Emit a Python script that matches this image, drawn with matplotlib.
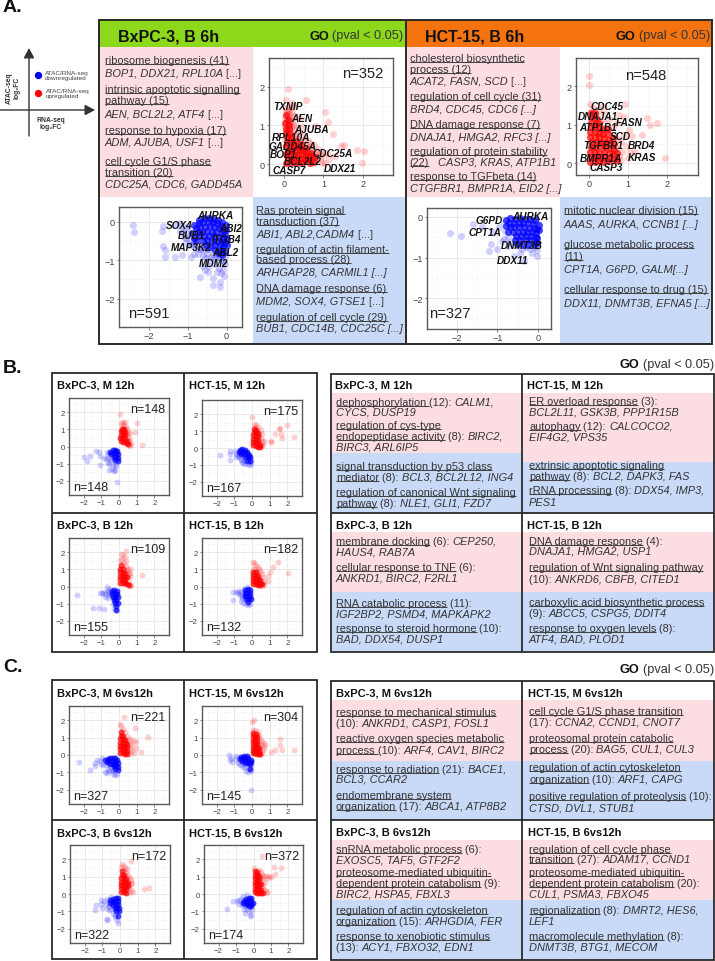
import re
import numpy as np
import matplotlib
matplotlib.use("Agg")
import matplotlib.pyplot as plt
from matplotlib.patches import Rectangle

plt.rcParams['font.family'] = ['Liberation Sans', 'DejaVu Sans']

# ---------------------------- data: panel A scatter points
A_BX_UP_CORE = [(.05,.04),(.16,.06),(.26,.03),(.36,.06),(.46,.04),(.56,.07),(.66,.03),(.1,.15),(.21,.14),(.31,.17),(.41,.14),(.51,.16),(.61,.14),(.71,.12),
                (.05,.26),(.15,.24),(.26,.27),(.36,.24),(.46,.26),(.56,.23),(.66,.21),(.1,.35),(.2,.36),(.31,.34),(.41,.36),(.5,.33),(.6,.3),
                (.04,.46),(.15,.45),(.25,.46),(.35,.43),(.45,.4),(.08,.56),(.17,.57),(.28,.5),(.07,.7),(.14,.78),(.06,.9),(.12,1.02),
                (.75,.05),(.78,.18),(.68,.3),(.55,.42),(.42,.52),(.3,.6),(.18,.68),(.05,.8),(.12,.9),(.03,1.05),(.1,1.15),(.06,1.28)]
A_BX_UP_SPARSE = [(.11,1.93),(.56,1.65),(.05,1.65),(.2,1.57),(1.04,1.35),(1.11,1.08),(.79,.99),(1.24,.77),(1.51,.5),(1.44,.47),(1.85,.37),(2.03,.33),(1.98,.04),(1.03,.04),(1.3,.2),
                  (.02,.62),(.08,.7),(.15,.65),(.22,.72),(.3,.66),(.4,.6),(.05,.8),(.12,.85),(.2,.82),(.02,.95),(.1,1.0),(.18,.95),(.28,.88),(.38,.8),(.5,.75),
                  (.04,1.1),(.12,1.15),(.2,1.1),(.3,1.0),(.45,.95),(.05,1.3),(.15,1.3),(.25,1.25),(.4,1.2),(.02,1.45),(.12,1.45),(.25,1.5),(.6,.6),(.75,.5),(.85,.4),(.7,.35),(.95,.3),(.8,.2),(.9,.1),(1.0,.2),
                  (.03,1.2),(.1,1.25),(.08,1.38),(.16,1.2),(.06,.98),(.14,1.08),(.24,1.02),(.55,.5),(.65,.45),(.75,.25),
                  (.8,.3),(.9,.25),(.65,.55),(.5,.62),(.35,.72),(1.1,.3),(1.15,.12),(.95,.02),(.12,1.4),(.2,1.35)]
A_BX_DN_CORE = [(-.85,-.08),(-.72,-.04),(-.6,-.02),(-.48,.0),(-.36,-.02),(-.24,-.05),(-.14,-.12),(-.8,-.18),(-.68,-.15),(-.56,-.13),(-.44,-.12),(-.32,-.14),(-.2,-.17),(-.08,-.22),
                (-.9,-.3),(-.75,-.28),(-.63,-.26),(-.5,-.25),(-.38,-.26),(-.26,-.28),(-.13,-.3),(-.05,-.34),(-.7,-.38),(-.58,-.38),(-.46,-.37),(-.33,-.38),(-.2,-.4),(-.08,-.42),
                (-.62,-.5),(-.5,-.48),(-.38,-.5),(-.25,-.5),(-.12,-.52),(-.04,-.55),(-.3,-.6),(-.18,-.62),(-.08,-.65),(-.14,-.74),(-.05,-.78),
                (-.85,-.42),(-.78,-.5),(-.52,-.62),(-.42,-.66),(-.3,-.74),(-.22,-.82),(-.12,-.86),(-.02,-.1),(-.02,-.22),(.0,-.45),(.0,-.62),(-.58,.08),(-.46,.1),(-.34,.06),(-.22,.05),(-.12,-.02),(-.7,.05)]
A_BX_DN_SPARSE = [(-2.41,-.09),(-2.38,-.26),(-1.64,-.11),(-1.66,-.24),(-1.64,-.63),(-1.58,-.74),(-1.58,-.91),(-1.32,-.91),(-1.16,-.87),(-.92,-.91),(-.69,-1.45),(-.47,-1.32),(-.36,-1.48),(-.34,-1.65),(-.17,-1.58),(-.16,-1.71),(-.07,-1.41),
                  (-1.3,-.1),(-1.2,-.25),(-1.1,-.4),(-1.0,-.15),(-1.05,-.55),(-.95,-.6),(-.85,-.5),(-.8,-.7),(-.75,-.85),(-.65,-.72),(-.6,-.9),(-.55,-.65),(-.5,-.85),(-.45,-.72),(-.42,-1.0),(-.35,-.85),(-.3,-1.1),(-.25,-.92),(-.2,-1.2),(-.12,-1.0),(-.08,-1.25),(-.6,-1.15),(-.55,-1.25),(-.03,-.9),(-.15,-.85),(-.4,-.62),
                  (-1.2,-.05),(-1.1,-.15),(-1.12,-.28),(-1.0,-.3),(-1.05,-.42),(-.95,-.5),(-.9,-.62),(-.8,-.6),(-.72,-.72),(-.6,-.75),(-.5,-.72),(-.55,-.95),(-.4,-.92),(-.3,-.95),(-.2,-.95),(-.1,-1.05),(-.03,-1.1),(-.25,-1.3),(-.45,-1.15),(-.15,-1.35),(-.85,-.85)]
A_HC_UP_CORE = [(.03,.05),(.14,.03),(.25,.06),(.36,.04),(.47,.06),(.04,.17),(.15,.16),(.27,.18),(.38,.16),(.5,.14),(.03,.3),(.14,.29),(.26,.31),(.38,.3),(.5,.28),(.6,.24),
                (.04,.43),(.15,.42),(.27,.44),(.39,.42),(.52,.4),(.63,.36),(.04,.56),(.16,.55),(.28,.56),(.4,.54),(.54,.52),(.03,.69),(.14,.68),(.26,.69),(.38,.66),(.5,.62),
                (.03,.82),(.14,.81),(.25,.8),(.36,.76),(.04,.95),(.15,.94),(.26,.92),(.05,1.08),(.16,1.05),(.06,1.2),
                (.62,.12),(.7,.1),(.72,.28),(.64,.5),(.6,.65),(.48,.76),(.36,.9),(.26,1.05),(.16,1.18),(.04,1.3),(.14,1.3),(.48,.9)]
A_HC_UP_SPARSE = [(0,2.28),(0,2.03),(.92,1.54),(1.48,1.19),(1.55,.99),(1.74,1.06),(1.34,.73),(1.95,.15),(1.02,.86),(1.1,.7),(1.17,.3),(.75,1.25),(.88,1.2),(.7,1.05),(.6,.95),
                  (.02,1.55),(.1,1.45),(.25,1.4),(.38,1.3),(.5,1.15),(.4,1.05),(.62,.75),(.72,.65),(.82,.55),(.9,.75),(.7,.4),(.85,.3),(.75,.2),(.95,.45),(1.0,.15),(.65,.1),(.58,.05),(.8,.08),(1.05,.3),(.35,1.5),(.2,1.25),(.12,1.3),(.03,1.32),(.3,1.12)]
A_HC_DN_CORE = [(-.68,-.03),(-.56,-.04),(-.44,-.02),(-.32,-.05),(-.2,-.06),(-.72,-.15),(-.6,-.14),(-.48,-.14),(-.36,-.15),(-.24,-.16),(-.12,-.18),(-.7,-.26),(-.58,-.26),(-.46,-.26),(-.34,-.26),(-.22,-.28),(-.1,-.28),(-.03,-.3),
                (-.62,-.38),(-.5,-.37),(-.38,-.38),(-.26,-.38),(-.14,-.38),(-.04,-.4),(-.55,-.48),(-.42,-.48),(-.3,-.48),(-.18,-.48),(-.06,-.5),(-.44,-.58),(-.3,-.58),(-.16,-.58),(-.06,-.62),
                (-.08,-.08),(.02,-.2),(.03,-.32),(-.56,-.58),(-.02,-.52),(-.38,-.68),(-.24,-.68),(-.1,-.7),(-.02,-.65),(-.78,-.08),(-.8,-.22),(-.75,-.38),(-.52,-.66)]
A_HC_DN_SPARSE = [(-2.16,-.4),(-1.9,-.48),(-1.6,-.17),(-1.38,-.24),(-1.22,-.84),(-1.15,-.67),(-1.01,-.79),(-.58,-.96),(-.35,-1.08),(-.02,-.96),(-.02,-.82),(-1.1,-.38),(-.95,-.25),(-.85,-.15),(-.82,-.35),(-.75,-.5),(-.68,-.62),
                  (-.6,-.7),(-.85,-.55),(-.5,-.72),(-.4,-.78),(-.3,-.75),(-.2,-.78),(-.08,-.75),(-.45,-.9),(-.15,-.88),(-.75,-.72),(-.9,-.6),(-.05,-.05),(-.04,-.15)]

# ---------------------------- data: panel B scatter points
B1_UP_CORE = [(.1,.3),(.25,.25),(.4,.2),(.5,.12),(.08,.5),(.2,.5),(.33,.45),(.45,.35),(.1,.7),(.22,.7),(.35,.65),(.1,.9),(.22,.9),(.35,.85),(.15,1.05),(.28,1.05)]
B1_UP_SPARSE = [(.06,1.87),(.1,1.4),(.2,1.45),(.33,1.45),(.15,1.25),(.3,1.25),(.4,1.15),(.5,.85),(.6,.8),(1.04,1.4),(.9,.85),(1.28,.09),(.7,.15),(.6,.3),(.5,.55),(.65,.05),(.55,.1),(.45,.75),(.45,1.0),(.55,.45)]
B1_DN_CORE = [(-.5,-.3),(-.35,-.2),(-.2,-.2),(-.1,-.25),(-.45,-.45),(-.3,-.4),(-.15,-.4),(-.05,-.45),(-.3,-.6),(-.15,-.6),(-.05,-.65),(-.2,-.8),(-.08,-.85)]
B1_DN_SPARSE = [(-2.0,-.62),(-1.8,-.85),(-1.65,-.55),(-1.3,-.25),(-1.15,-.35),(-1.05,-.55),(-1.1,-1.1),(-.85,-.7),(-.75,-.72),(-.65,-.65),(-.7,-.3),(-.62,-.45),(-.6,-.95),(-.55,-1.0),(-.55,-1.35),(-.4,-1.3),(-.3,-1.45),(-.2,-1.35),(-.15,-1.15),(-.35,-1.1),(-.25,-1.0),(-.13,-2.1),(-.5,-.8),(-.4,-.75)]
B2_UP_CORE = [(.08,.15),(.2,.1),(.33,.08),(.45,.05),(.08,.35),(.2,.33),(.33,.28),(.45,.2),(.08,.55),(.2,.52),(.33,.48),(.08,.75),(.2,.72),(.32,.68),(.1,.95),(.22,.92),(.33,.88),(.12,1.12),(.25,1.05)]
B2_UP_SPARSE = [(0,1.8),(.7,.4),(1.3,.8),(1.57,1.15),(1.52,1.12),(2,1.37),(2.37,.66),(1.63,.8),(1.72,.57),(1.1,.38),(1.05,.42),(.1,1.4),(.25,1.35),(.35,1.25),(.5,1.05),(.55,.8),(.5,.6),(.62,.25),(.55,.1),(.58,.4),(.42,.75),(.18,1.25)]
B2_DN_CORE = [(-.7,-.1),(-.55,-.07),(-.4,-.1),(-.75,-.25),(-.6,-.22),(-.45,-.24),(-.3,-.22),(-.6,-.38),(-.45,-.38),(-.3,-.38),(-.15,-.4),(-.4,-.52),(-.25,-.52),(-.1,-.52),(-.3,-.78),(-.12,-.78)]
B2_DN_SPARSE = [(-1.8,-.42),(-1.25,-.2),(-1.25,-.7),(-1.22,-.35),(-.95,-.15),(-.92,-.35),(-.88,-.55),(-.8,-.5),(-.7,-.6),(-.6,-.7),(-.45,-.72),(-.5,-.9),(-.38,-.92),(-.25,-.95),(-.1,-1.0),(-.05,-.88),(-.2,-.65),(-.05,-.68),(-.75,-.45),(-.55,-.85)]
B3_UP_CORE = [(.08,.2),(.2,.18),(.33,.2),(.08,.42),(.2,.4),(.33,.38),(.08,.62),(.2,.6),(.33,.58),(.45,.55),(.08,.82),(.2,.8),(.33,.78),(.08,1.02),(.2,1.0),(.1,1.25),(.45,.12),(.58,.1)]
B3_UP_SPARSE = [(.4,2.1),(.1,1.9),(.2,1.85),(1.28,.7),(.05,1.55),(.18,1.6),(.32,1.7),(.4,1.5),(.3,1.35),(.42,1.2),(.5,1.05),(.6,1.0),(.65,.8),(.55,.75),(.65,.62),(.55,.35),(.68,.1),(.3,1.1),(.45,.9),(.62,.05)]
B3_DN_CORE = [(-.42,-.25),(-.28,-.22),(-.13,-.25),(-.4,-.42),(-.25,-.42),(-.1,-.45),(-.35,-.6),(-.2,-.6),(-.07,-.62),(-.3,-.78),(-.15,-.78),(-.22,-.95),(-.08,-.95),(-.15,-1.15),(-.18,-1.35)]
B3_DN_SPARSE = [(-2.4,-.47),(-1.45,-1.25),(-1.15,-1.27),(-.85,-1.3),(-1.1,-.4),(-.95,-.38),(-.8,-.45),(-.7,-.05),(-.6,-.2),(-.85,-.3),(-.65,-.35),(-.55,-.5),(-.6,-.65),(-.5,-.4),(-.5,-.12),(-.35,-1.05),(-.3,-1.3),(-.1,-1.4),(-.78,-.6)]
B4_UP_CORE = [(.08,.15),(.2,.12),(.33,.1),(.45,.06),(.08,.33),(.2,.3),(.33,.28),(.45,.22),(.56,.15),(.08,.5),(.2,.48),(.33,.45),(.45,.38),(.08,.68),(.2,.66),(.33,.62),(.08,.85),(.2,.82)]
B4_UP_SPARSE = [(2.05,.78),(1.47,1.45),(1.2,1.12),(1,.85),(.92,.62),(.9,.3),(.05,1.45),(.12,1.35),(.25,1.25),(.35,1.15),(.4,1.0),(.5,.9),(.55,.72),(.65,.55),(.7,.35),(.6,.05),(.05,1.05),(.18,1.02),(.32,.85),(.7,.12)]
B4_DN_CORE = [(-.38,-.2),(-.25,-.12),(-.12,-.2),(-.42,-.38),(-.28,-.36),(-.13,-.38),(-.4,-.55),(-.26,-.54),(-.12,-.55),(-.32,-.72),(-.18,-.72),(-.08,-.72),(-.2,-.88)]
B4_DN_SPARSE = [(-1.05,-.35),(-1.05,-.8),(-.9,-.35),(-.8,-.4),(-.72,-.25),(-.7,-.5),(-.6,-.35),(-.55,-.7),(-.6,-.85),(-.5,-.95),(-.35,-1.05),(-.25,-1.1),(-.12,-1.05),(-.48,-.12),(-.58,-.55),(-.3,-.02)]

# ---------------------------- data: panel C scatter points
C1_UP_CORE = [(.08,.12),(.2,.1),(.32,.08),(.45,.05),(.08,.32),(.2,.3),(.32,.28),(.45,.25),(.08,.52),(.2,.5),(.32,.48),(.45,.45),(.08,.72),(.2,.7),(.32,.68),(.45,.65),(.08,.92),(.2,.9),(.32,.88),(.1,1.12),(.22,1.08),(.1,1.3)]
C1_UP_SPARSE = [(.3,2.2),(.9,1.55),(1.65,1.05),(1.27,.15),(.05,1.8),(.12,1.65),(.22,1.5),(.32,1.3),(.45,1.1),(.58,.95),(.7,.85),(.85,.8),(.95,.75),(.6,.65),(.72,.5),(.6,.35),(.72,.25),(.85,.12),(.6,.05),(.95,.4),(.42,.88),(.18,1.35)]
C1_DN_CORE = [(-.8,-.3),(-.65,-.22),(-.5,-.2),(-.35,-.15),(-.2,-.15),(-.7,-.4),(-.55,-.37),(-.4,-.35),(-.25,-.33),(-.1,-.3),(-.5,-.52),(-.35,-.5),(-.2,-.5),(-.07,-.48),(-.3,-.65),(-.15,-.65),(-.05,-.68),(-.2,-.82),(-.08,-.85)]
C1_DN_SPARSE = [(-2.25,-.38),(-1.65,-.85),(-1.25,-.3),(-1.38,-.45),(-1.1,-.35),(-1.35,-.65),(-1.0,-.5),(-.9,-.55),(-.75,-.6),(-.65,-.8),(-.8,-1.0),(-.7,-1.05),(-.55,-.9),(-.4,-.85),(-.35,-1.1),(-.22,-1.15),(-.1,-1.1),(-.5,-.7),(-.95,-.2),(-.32,-.95)]
C2_UP_CORE = [(.08,.12),(.18,.1),(.28,.08),(.38,.07),(.48,.03),(.06,.3),(.17,.3),(.28,.27),(.38,.22),(.06,.48),(.17,.48),(.28,.45),(.38,.4),(.06,.68),(.16,.66),(.28,.62),(.06,.88),(.16,.86),(.27,.82),(.06,1.08),(.16,1.05),(.26,1.02),(.08,1.28),(.2,1.22)]
C2_UP_SPARSE = [(.1,2),(0,1.9),(2.4,.3),(1.6,.95),(1.6,.6),(1.72,.3),(1.3,.3),(1.08,.15),(.05,1.45),(.15,1.42),(.32,1.32),(.38,1.1),(.45,.95),(.55,.8),(.68,.72),(.72,.6),(.55,.55),(.62,.3),(.55,.12),(.45,.6),(.7,.42),(.3,1.2)]
C2_DN_CORE = [(-.6,-.1),(-.45,-.05),(-.3,-.08),(-.68,-.22),(-.52,-.2),(-.38,-.2),(-.22,-.2),(-.08,-.28),(-.58,-.35),(-.44,-.34),(-.3,-.34),(-.15,-.38),(-.05,-.42),(-.4,-.47),(-.25,-.47),(-.12,-.52),(-.12,-.78)]
C2_DN_SPARSE = [(-.05,-2),(-1.3,-.02),(-1.25,-.3),(-1.18,-.15),(-1.12,-.4),(-.9,-.08),(-.88,-.25),(-.82,-.38),(-.75,-.5),(-.62,-.6),(-.5,-.68),(-.38,-.72),(-.22,-.75),(-.32,-.9),(-.22,-.98),(-.08,-.95),(-.06,-.62),(-.72,-.12)]
C3_UP_CORE = [(.08,.12),(.2,.1),(.32,.08),(.08,.32),(.2,.3),(.32,.28),(.08,.52),(.2,.5),(.32,.48),(.45,.45),(.08,.72),(.2,.7),(.32,.68),(.45,.65),(.08,.92),(.2,.9),(.32,.88),(.1,1.12),(.22,1.1),(.1,1.32)]
C3_UP_SPARSE = [(.6,1.9),(1.35,.3),(1.65,.35),(.05,1.55),(.12,1.75),(.2,1.62),(.3,1.5),(.4,1.45),(.35,1.25),(.45,1.12),(.55,.95),(.6,.78),(.68,.65),(.6,.55),(.55,.35),(.62,.18),(.72,.1),(.5,.08),(.42,1.0),(.22,1.35)]
C3_DN_CORE = [(-.55,-.35),(-.4,-.28),(-.25,-.25),(-.1,-.25),(-.58,-.5),(-.42,-.47),(-.27,-.43),(-.12,-.42),(-.4,-.65),(-.25,-.62),(-.1,-.6),(-.3,-.8),(-.15,-.8),(-.05,-.78),(-.2,-1.0),(-.08,-1.0),(-.12,-1.25)]
C3_DN_SPARSE = [(-1.4,-.95),(-1.35,-.65),(-.75,-1.5),(-.74,-1.45),(-1.1,-.35),(-1.05,-.6),(-1.0,-.8),(-.9,-.4),(-.82,-.6),(-.75,-.82),(-.72,-.3),(-.62,-.7),(-.6,-.95),(-.5,-.85),(-.42,-1.1),(-.3,-1.2),(-.15,-1.5),(-.1,-1.7),(-.5,-.2),(-.28,-1.35)]
C4_UP_CORE = [(.08,.1),(.2,.08),(.32,.06),(.45,.04),(.55,.06),(.08,.3),(.2,.28),(.32,.25),(.45,.22),(.08,.5),(.2,.48),(.32,.45),(.08,.7),(.2,.68),(.32,.65),(.45,.6),(.08,.9),(.2,.88),(.32,.85),(.08,1.1),(.2,1.08),(.32,1.02),(.08,1.3),(.2,1.28)]
C4_UP_SPARSE = [(.5,2.2),(1.2,1.55),(1.6,1.5),(1.25,1.15),(.9,1.05),(.8,.2),(1.0,1.0),(.05,1.48),(.3,1.38),(.42,1.25),(.5,1.1),(.6,1.05),(.72,1.02),(.55,.85),(.65,.7),(.55,.45),(.65,.25),(.5,.32),(.75,.05),(.42,.9),(.85,.95)]
C4_DN_CORE = [(-.55,-.38),(-.42,-.3),(-.28,-.25),(-.13,-.22),(-.6,-.5),(-.45,-.46),(-.3,-.42),(-.15,-.4),(-.45,-.6),(-.3,-.56),(-.15,-.55),(-.05,-.5),(-.28,-.7),(-.12,-.7)]
C4_DN_SPARSE = [(-1.5,-.85),(-1.15,-.4),(-.5,-1.1),(-.2,-1.25),(-.95,-.42),(-.85,-.35),(-.82,-.55),(-.7,-.3),(-.68,-.62),(-.62,-.12),(-.38,-.08),(-.55,-.85),(-.35,-.85),(-.25,-1.0),(-.12,-1.2),(-.1,-.92),(-.48,-.72)]

# ---------------------------- data: gene labels
A_BX_UP_GENES = [("TXNIP",.09,1.49),("AEN",.45,1.18),("AJUBA",.69,.9),("RPL10A",.19,.71),("GADD45A",.22,.46),("BOP1",-.02,.27),("CDC25A",1.24,.3),("BCL2L2",.47,.07),("CASP7",.14,-.15),("DDX21",1.41,-.11)]
A_BX_DN_GENES = [("AURKA",-.3,.16),("SOX4",-1.23,-.1),("ABI2",.1,-.18),("BUB1",-.9,-.35),("ITGB4",-.01,-.45),("MAP3K2",-.92,-.66),("ABL2",-.02,-.79),("MDM2",-.34,-1.08)]
A_HC_UP_GENES = [("CDC45",.45,1.5),("DNAJA1",.21,1.23),("ATP1B1",.22,.95),("FASN",1.03,1.07),("SCD",.79,.7),("TGFBR1",.36,.47),("BRD4",1.34,.47),("KRAS",1.34,.18),("BMPR1A",.31,.14),("CASP3",.43,-.09)]
A_HC_DN_GENES = [("AURKA",-.19,.03),("G6PD",-1.2,-.07),("CPT1A",-1.3,-.36),("DNMT3B",-.4,-.69),("DDX11",-.62,-1.05)]

# ---------------------------- data: text
A_TITLES = ["BxPC-3, B 6h", "HCT-15, B 6h"]
A_COUNTS = ["n=352", "n=591", "n=548", "n=327"]
B_TITLES = ["BxPC-3, M 12h", "HCT-15, M 12h", "BxPC-3, B 12h", "HCT-15, B 12h"]
B_COUNTS = [("n=148", "n=148"), ("n=175", "n=167"), ("n=109", "n=155"), ("n=182", "n=132")]
C_TITLES = ["BxPC-3, M 6vs12h", "HCT-15, M 6vs12h", "BxPC-3, B 6vs12h", "HCT-15, B 6vs12h"]
C_COUNTS = [("n=221", "n=327"), ("n=304", "n=145"), ("n=172", "n=322"), ("n=372", "n=174")]

A_BX_UP_TEXT = ["<u>ribosome biogenesis (41)</u>", "<i>BOP1, DDX21, RPL10A</i> [...]", "<u>intrinsic apoptotic signalling</u>", "<u>pathway (15)</u>",
                "<i>AEN, BCL2L2, ATF4</i> [...]", "<u>response to hypoxia (17)</u>", "<i>ADM, AJUBA, USF1</i> [...]", "<u>cell cycle G1/S phase</u>", "<u>transition (20)</u>", "<i>CDC25A, CDC6, GADD45A</i>"]
A_BX_DN_TEXT = ["<u>Ras protein signal</u>", "<u>transduction (37)</u>", "<i>ABI1, ABL2,CADM4</i> [...]", "<u>regulation of actin filament-</u>", "<u>based process (28)</u>", "<i>ARHGAP28, CARMIL1 [...]</i>",
                "<u>DNA damage response (6)</u>", "<i>MDM2, SOX4, GTSE1</i> [...]", "<u>regulation of cell cycle (29)</u>", "<i>BUB1, CDC14B, CDC25C [...]</i>"]
A_HC_UP_TEXT = ["<u>cholesterol biosynthetic</u>", "<u>process (12)</u>", "<i>ACAT2, FASN, SCD</i> [...]", "<u>regulation of cell cycle (31)</u>", "<i>BRD4, CDC45, CDC6 [...]</i>", "<u>DNA damage response (7)</u>",
                "<i>DNAJA1, HMGA2, RFC3 [...]</i>", "<u>regulation of protein stability</u>", "<u>(22)</u>   <i>CASP3, KRAS, ATP1B1</i>", "<u>response to TGFbeta (14)</u>", "<i>CTGFBR1, BMPR1A, EID2 [...]</i>"]
A_HC_DN_TEXT = ["<u>mitotic nuclear division (15)</u>", "<i>AAAS, AURKA, CCNB1 [...]</i>", "<u>glucose metabolic process</u>", "<u>(11)</u>", "<i>CPT1A, G6PD, GALM[...]</i>", "<u>cellular response to drug (15)</u>", "<i>DDX11, DNMT3B, EFNA5 [...]</i>"]

B1_TEXT = ["<u>dephosphorylation </u>(12): <i>CALM1,</i>", "<i>CYCS, DUSP19</i>", "<u>regulation of cys-type</u>", "<u>endopeptidase activity</u> (8): <i>BIRC2,</i>", "<i>BIRC3, ARL6IP5</i>",
           "<u>signal transduction by p53 class</u>", "<u>mediator</u> (8): <i>BCL3, BCL2L12, ING4</i>", "<u>regulation of canonical Wnt signaling</u>", "<u>pathway</u> (8): <i>NLE1, GLI1, FZD7</i>"]
B2_TEXT = ["<u>ER overload response</u> (3):", "<i>BCL2L11, GSK3B, PPP1R15B</i>", "<u>autophagy</u> (12): <i>CALCOCO2,</i>", "<i>EIF4G2, VPS35</i>",
           "<u>extrinsic apoptotic signaling</u>", "<u>pathway</u> (8): <i>BCL2, DAPK3, FAS</i>", "<u>rRNA processing</u> (8): <i>DDX54, IMP3,</i>", "<i>PES1</i>"]
B3_TEXT = ["<u>membrane docking</u> (6): <i>CEP250,</i>", "<i>HAUS4, RAB7A</i>", "<u>cellular response to TNF</u> (6):", "<i>ANKRD1, BIRC2, F2RL1</i>",
           "<u>RNA catabolic process</u> (11):", "<i>IGF2BP2, PSMD4, MAPKAPK2</i>", "<u>response to steroid hormone</u> (10):", "<i>BAD, DDX54, DUSP1</i>"]
B4_TEXT = ["<u>DNA damage response</u> (4):", "<i>DNAJA1, HMGA2, USP1</i>", "<u>regulation of Wnt signaling pathway</u>", "(10): <i>ANKRD6, CBFB, CITED1</i>",
           "<u>carboxylic acid biosynthetic process</u>", "(9): <i>ABCC5, CSPG5, DDIT4</i>", "<u>response to oxygen levels</u> (8):", "<i>ATF4, BAD, PLOD1</i>"]
C1_TEXT = ["<u>response to mechanical stimulus</u>", "(10): <i>ANKRD1, CASP1, FOSL1</i>", "<u>reactive oxygen species metabolic</u>", "<u>process </u>(10): <i>ARF4, CAV1, BIRC2</i>",
           "<u>response to radiation</u> (21): <i>BACE1,</i>", "<i>BCL3, CCAR2</i>", "<u>endomembrane system</u>", "<u>organization</u> (17): <i>ABCA1, ATP8B2</i>"]
C2_TEXT = ["<u>cell cycle G1/S phase transition</u>", "(17): <i>CCNA2, CCND1, CNOT7</i>", "<u>proteosomal protein catabolic</u>", "<u>process</u> (20): <i>BAG5, CUL1, CUL3</i>",
           "<u>regulation of actin cytoskeleton</u>", "<u>organization</u> (10): <i>ARF1, CAPG</i>", "<u>positive regulation of proteolysis</u> (10):", "<i>CTSD, DVL1, STUB1</i>"]
C3_TEXT = ["<u>snRNA metabolic process</u> (6):", "<i>EXOSC5, TAF5, GTF2F2</i>", "<u>proteosome-mediated ubiquitin-</u>", "<u>dependent protein catabolism</u> (9):", "<i>BIRC2, HSPA5, FBXL3</i>",
           "<u>regulation of actin cytoskeleton</u>", "<u>organization</u> (15): <i>ARHGDIA, FER</i>", "<u>response to xenobiotic stimulus</u>", "(13): <i>ACY1, FBXO32, EDN1</i>"]
C4_TEXT = ["<u>regulation of cell cycle phase</u>", "<u>transition</u> (27): <i>ADAM17, CCND1</i>", "<u>proteosome-mediated ubiquitin-</u>", "<u>dependent protein catabolism</u> (20):", "<i>CUL1, PSMA3, FBXO45</i>",
           "<u>regionalization</u> (8): <i>DMRT2, HES6,</i>", "<i>LEF1</i>", "<u>macromolecule methylation</u> (8):", "<i>DNMT3B, BTG1, MECOM</i>"]

# ---------------------------- layout (pixels) and styles
W, H = 715, 962
PINK, BLUE = "#fcdde2", "#c9daf8"
GREEN, ORANGE = "#8ed81c", "#f4730f"
RED_C, BLUE_C = "#ff0000", "#0000ff"
DARK = "#2a2a2a"
TXT = "#333333"

fig = plt.figure(figsize=(W/100, H/100), dpi=100, facecolor="white")


def overlay(z):
    a = fig.add_axes([0, 0, 1, 1], zorder=z)
    a.set_xlim(0, W)
    a.set_ylim(H, 0)
    a.axis("off")
    a.patch.set_alpha(0)
    return a


bg = overlay(0)
fg = overlay(10)
renderer = fig.canvas.get_renderer()


def rect(x0, y0, x1, y1, c):
    bg.add_patch(Rectangle((x0, y0), x1-x0, y1-y0, fc=c, ec="none"))


def box(x0, y0, x1, y1, lw=1.3, ax=fg):
    ax.add_patch(Rectangle((x0, y0), x1-x0, y1-y0, fc="none", ec=DARK, lw=lw))


def line(x0, y0, x1, y1, lw=1.3, c=DARK, ax=fg):
    ax.plot([x0, x1], [y0, y1], color=c, lw=lw, solid_capstyle="butt")
    ax.set_xlim(0, W)
    ax.set_ylim(H, 0)


def rich(x, y, s, size):
    """one line of text with <u>underlined</u> and <i>italic</i> runs; y is the baseline"""
    for part in re.split(r"(<u>.*?</u>|<i>.*?</i>)", s):
        if not part:
            continue
        under = part.startswith("<u>")
        ital = part.startswith("<i>")
        body = re.sub(r"</?[ui]>", "", part)
        t = fg.text(x, y, body, fontsize=size, style="italic" if ital else "normal", color=TXT, va="baseline", ha="left")
        # trailing spaces are not measured by the extent: use a bar-terminated probe
        probe = fg.text(0, 0, body + "|", fontsize=size, style=t.get_style())
        bar = fg.text(0, 0, "|", fontsize=size, style=t.get_style())
        w = probe.get_window_extent(renderer).width - bar.get_window_extent(renderer).width
        probe.remove()
        bar.remove()
        if under:
            line(x, y+1.6, x+w, y+1.6, lw=0.75, c="#444444")
        x += w


def block(x, ys, lines, size=7.9):
    for yy, s in zip(ys, lines):
        rich(x, yy+3.6, s, size)


def go_label(xr, y, size=9.2):
    t = fg.text(xr, y, "(pval < 0.05)", fontsize=size, color=TXT, ha="right", va="center_baseline")
    w = t.get_window_extent(renderer).width
    fg.text(xr-w-3.5, y, "GO", fontsize=size, fontweight="bold", color="#111111", ha="right", va="center_baseline")


def scatter_axes(px, xlim, ylim, ms, tick_fs, up=None, dn=None):
    x0, y0, x1, y1 = px
    ax = fig.add_axes([x0/W, 1-y1/H, (x1-x0)/W, (y1-y0)/H], zorder=5)
    major = [t for t in (-2, -1, 0, 1, 2)]
    minor = [-2.5, -1.5, -.5, .5, 1.5, 2.5]
    ax.set_xticks([t for t in major if xlim[0] <= t <= xlim[1]])
    ax.set_yticks([t for t in major if ylim[0] <= t <= ylim[1]])
    ax.set_xticks([t for t in minor if xlim[0] <= t <= xlim[1]], minor=True)
    ax.set_yticks([t for t in minor if ylim[0] <= t <= ylim[1]], minor=True)
    ax.set_xlim(*xlim)
    ax.set_ylim(*ylim)
    ax.grid(True, which="major", color="#e9e9e9", lw=0.7)
    ax.grid(True, which="minor", color="#f4f4f4", lw=0.4)
    ax.tick_params(which="minor", length=0)
    ax.tick_params(which="major", length=1.8, width=0.5, color="#555555", labelsize=tick_fs, labelcolor="#444444", pad=1.2)
    ax.set_axisbelow(True)
    for sp in ax.spines.values():
        sp.set_color("#5a5a5a")
        sp.set_linewidth(1.0)
    for core, sparse, col in ([up + (RED_C,)] if up else []) + ([dn + (BLUE_C,)] if dn else []):
        s = np.array(sparse)
        c = np.array(core)
        ax.scatter(s[:, 0], s[:, 1], s=ms, color=col, alpha=0.18, linewidths=0, clip_on=False)
        ax.scatter(c[:, 0], c[:, 1], s=ms, color=col, alpha=0.72, linewidths=0, clip_on=False)
    return ax


def genes(ax, items, fs=7.2):
    for name, x, y in items:
        ax.text(x, y, name, fontsize=fs, style="italic", fontweight="bold", color="#111111", ha="center", va="center", clip_on=False, zorder=6)


# ---------------------------- panel letters
for lab, y in zip(["A.", "B.", "C."], [8, 369, 668]):
    fg.text(3, y, lab, fontsize=14, fontweight="bold", color="#111111", va="center", ha="left")

# ---------------------------- legend sketch
fg.annotate("", xy=(29, 49), xytext=(29, 137), arrowprops=dict(arrowstyle="-|>,head_width=0.32,head_length=0.6", color="#333333", lw=1.0, shrinkA=0, shrinkB=0))
fg.annotate("", xy=(95, 111), xytext=(0, 111), arrowprops=dict(arrowstyle="-|>,head_width=0.32,head_length=0.6", color="#333333", lw=1.0, shrinkA=0, shrinkB=0))
fg.text(13, 88, "ATAC-seq\nlog\u2082FC", rotation=90, fontsize=4.9, fontweight="bold", color=TXT, ha="center", va="center", linespacing=1.05)
fg.text(51, 124, "RNA-seq\nlog\u2082FC", fontsize=4.9, fontweight="bold", color=TXT, ha="center", va="center", linespacing=1.15)
fg.scatter([38], [76], s=28, color=BLUE_C, linewidths=0)
fg.scatter([38], [94], s=28, color=RED_C, linewidths=0)
fg.set_xlim(0, W)
fg.set_ylim(H, 0)
fg.text(45, 76, "ATAC/RNA-seq\ndownregulated", fontsize=4.6, color="#444444", ha="left", va="center", linespacing=1.1)
fg.text(45.5, 94, "ATAC/RNA-seq\nupregulated", fontsize=4.6, color="#444444", ha="left", va="center", linespacing=1.1)

# ---------------------------- panel A
rect(99, 21, 406, 47.5, GREEN)
rect(406, 21, 712, 47.5, ORANGE)
rect(99, 47.5, 253, 198, PINK)
rect(253, 198, 406, 345, BLUE)
rect(407, 47.5, 560, 198, PINK)
rect(560, 198, 712, 345, BLUE)
box(99, 21, 712, 345, lw=1.4)
line(406, 21, 406, 345, lw=1.4)
fg.text(118, 35, A_TITLES[0], fontsize=11.5, fontweight="bold", color="#111111", ha="left", va="center_baseline")
fg.text(425, 35, A_TITLES[1], fontsize=11.5, fontweight="bold", color="#111111", ha="left", va="center_baseline")
go_label(403.5, 35)
go_label(710.5, 35)

block(105, [60, 73, 89, 100, 114, 130, 142, 161, 172, 184], A_BX_UP_TEXT)
block(256.5, [210, 221, 234, 249, 259, 272, 288, 301, 317, 328], A_BX_DN_TEXT)
block(409.5, [58, 69, 81, 96, 109, 124, 137, 151, 162, 176, 188], A_HC_UP_TEXT)
block(564, [210, 224, 244, 256, 269, 289, 303], A_HC_DN_TEXT)

ax = scatter_axes((269, 58.5, 393, 176), (-.38, 2.76), (-.28, 2.75), 26, 6.6, up=(A_BX_UP_CORE, A_BX_UP_SPARSE))
genes(ax, A_BX_UP_GENES)
ax = scatter_axes((119, 207.5, 242, 328), (-2.78, .4), (-2.74, .39), 26, 6.6, dn=(A_BX_DN_CORE, A_BX_DN_SPARSE))
genes(ax, A_BX_DN_GENES)
ax = scatter_axes((576, 58.5, 697.5, 176), (-.34, 2.77), (-.3, 2.75), 26, 6.6, up=(A_HC_UP_CORE, A_HC_UP_SPARSE))
genes(ax, A_HC_UP_GENES)
ax = scatter_axes((427, 209, 550.5, 330), (-2.74, .31), (-2.76, .22), 26, 6.6, dn=(A_HC_DN_CORE, A_HC_DN_SPARSE))
genes(ax, A_HC_DN_GENES)
for s, x, y in zip(A_COUNTS, [363, 149, 646, 450], [73, 313, 74, 313]):
    fg.text(x, y, s, fontsize=10.6, color="#222222", ha="center", va="center_baseline")

# ---------------------------- panels B and C: scatter grids
LIM = (-2.83, 2.83)
B_AXES = [(69, 399, 169, 496), (202, 401, 302, 497), (69, 539, 169, 636), (202, 539, 302, 636)]
C_AXES = [(69, 707, 169, 805), (202, 707, 302, 805), (70, 846, 170, 944), (204, 846, 303, 944)]
B_DATA = [((B1_UP_CORE, B1_UP_SPARSE), (B1_DN_CORE, B1_DN_SPARSE)), ((B2_UP_CORE, B2_UP_SPARSE), (B2_DN_CORE, B2_DN_SPARSE)),
          ((B3_UP_CORE, B3_UP_SPARSE), (B3_DN_CORE, B3_DN_SPARSE)), ((B4_UP_CORE, B4_UP_SPARSE), (B4_DN_CORE, B4_DN_SPARSE))]
C_DATA = [((C1_UP_CORE, C1_UP_SPARSE), (C1_DN_CORE, C1_DN_SPARSE)), ((C2_UP_CORE, C2_UP_SPARSE), (C2_DN_CORE, C2_DN_SPARSE)),
          ((C3_UP_CORE, C3_UP_SPARSE), (C3_DN_CORE, C3_DN_SPARSE)), ((C4_UP_CORE, C4_UP_SPARSE), (C4_DN_CORE, C4_DN_SPARSE))]


def scatter_grid(top, bottom, mid, title_ys, title_x, axes_px, data, titles, counts):
    box(52, top, 316.5, bottom)
    line(184, top, 184, bottom)
    line(52, mid, 316.5, mid)
    for i, (px, d, t, n) in enumerate(zip(axes_px, data, titles, counts)):
        scatter_axes(px, LIM, LIM, 18, 5.6, up=d[0], dn=d[1])
        fg.text(title_x[i], title_ys[i], t, fontsize=8.0, fontweight="bold", color="#111111", ha="left", va="center_baseline")
        fg.text(px[2]-4, px[1]+9.5, n[0], fontsize=9.0, color="#222222", ha="right", va="center_baseline")
        fg.text(px[0]+4, px[3]-9.5, n[1], fontsize=9.0, color="#222222", ha="left", va="center_baseline")


scatter_grid(374, 653, 514, [385, 385, 525, 525], [57, 189, 57, 189], B_AXES, B_DATA, B_TITLES, B_COUNTS)
scatter_grid(681, 960, 821, [693, 693, 833, 833], [57, 189, 57, 189], C_AXES, C_DATA, C_TITLES, C_COUNTS)

# ---------------------------- panels B and C: GO tables
go_label(714, 364)
go_label(714, 669)

rect(331, 394, 522, 454, PINK)
rect(331, 454, 522, 514, BLUE)
rect(522, 394, 714, 463, PINK)
rect(522, 463, 714, 514, BLUE)
rect(331, 533, 522, 593, PINK)
rect(331, 593, 522, 653, BLUE)
rect(522, 533, 714, 593, PINK)
rect(522, 593, 714, 653, BLUE)
box(331, 375, 714, 653)
line(522, 375, 522, 653)
line(331, 514, 714, 514)
for s, x, y in zip(B_TITLES, [335, 527, 336, 527], [385, 385, 525, 525]):
    fg.text(x, y, s, fontsize=8.0, fontweight="bold", color="#111111", ha="left", va="center_baseline")
block(336, [402, 412, 425, 436, 447, 466, 477, 492, 503], B1_TEXT)
block(529, [401, 412, 426, 437, 465, 476, 490, 502], B2_TEXT)
block(336, [541, 552, 567, 578, 603, 614, 628, 639], B3_TEXT)
block(529, [541, 551, 567, 579, 602, 613, 628, 639], B4_TEXT)

rect(331, 701, 522, 762, PINK)
rect(331, 762, 522, 821, BLUE)
rect(522, 701, 714, 762, PINK)
rect(522, 762, 714, 821, BLUE)
rect(331, 841, 522, 901, PINK)
rect(331, 901, 522, 961, BLUE)
rect(522, 841, 714, 901, PINK)
rect(522, 901, 714, 961, BLUE)
box(331, 682, 714, 961)
line(522, 682, 522, 961)
line(331, 821, 714, 821)
for s, x, y in zip(C_TITLES, [336, 528, 336, 528], [693, 693, 832, 832]):
    fg.text(x, y, s, fontsize=8.0, fontweight="bold", color="#111111", ha="left", va="center_baseline")
block(336, [712, 723, 738, 750, 769, 779, 795, 806], C1_TEXT)
block(529, [711, 722, 738, 749, 767, 779, 796, 808], C2_TEXT)
block(336, [849, 860, 872, 883, 894, 910, 921, 936, 947], C3_TEXT)
block(529, [849, 859, 872, 883, 894, 910, 921, 936, 947], C4_TEXT)

fig.savefig("out.png", dpi=100)
